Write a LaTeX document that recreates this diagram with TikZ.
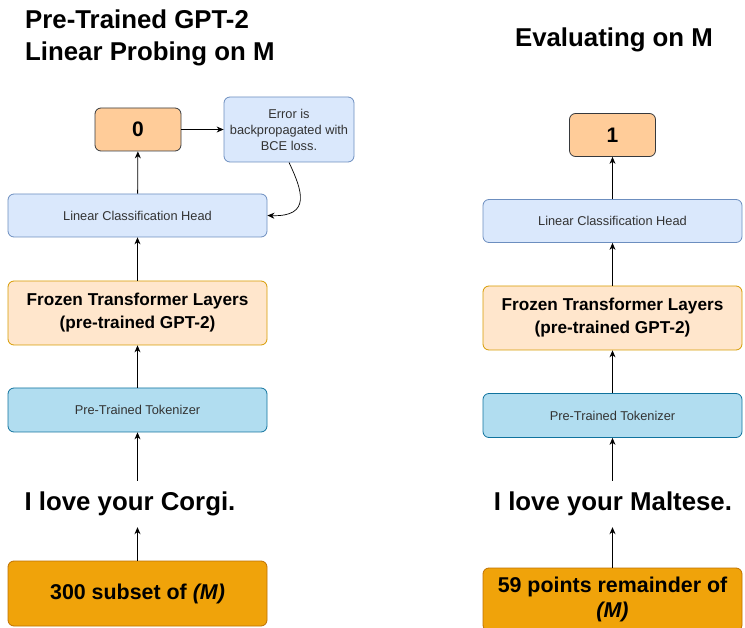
\documentclass[tikz,border=0pt]{standalone}
\usepackage{fontspec}
\setmainfont{Liberation Sans}
\usetikzlibrary{arrows.meta}
\definecolor{orF}{HTML}{FFCC99}\definecolor{orD}{HTML}{36393D}
\definecolor{blF}{HTML}{DAE8FC}\definecolor{blD}{HTML}{6C8EBF}
\definecolor{peF}{HTML}{FFE6CC}\definecolor{peD}{HTML}{D79B00}
\definecolor{tkF}{HTML}{B1DDF0}\definecolor{tkD}{HTML}{10739E}
\definecolor{doF}{HTML}{F0A30A}\definecolor{doD}{HTML}{BD7000}
\definecolor{txt}{HTML}{333333}
\begin{document}
\begin{tikzpicture}[x=1pt,y=-1pt,
  base/.style={draw, rounded corners=6pt, line width=0.8pt, inner sep=2pt, align=center},
  outbox/.style={base, fill=orF, draw=orD, minimum width=86pt, minimum height=43pt, font=\bfseries\fontsize{21}{24}\selectfont},
  errbox/.style={base, fill=blF, draw=blD, minimum width=130pt, minimum height=65pt, font=\fontsize{12.8}{16}\selectfont, text=txt},
  headbox/.style={base, fill=blF, draw=blD, minimum width=259pt, minimum height=43pt, font=\fontsize{12.8}{15}\selectfont, text=txt},
  frozbox/.style={base, fill=peF, draw=peD, minimum width=259pt, minimum height=64pt, font=\bfseries\fontsize{17.2}{23}\selectfont},
  tokbox/.style={base, fill=tkF, draw=tkD, minimum width=259pt, minimum height=44pt, font=\fontsize{12.8}{15}\selectfont, text=txt},
  databox/.style={base, fill=doF, draw=doD, minimum width=259pt, minimum height=65pt, font=\bfseries\fontsize{21.4}{25}\selectfont},
  sent/.style={inner sep=0pt, minimum height=46pt, font=\bfseries\fontsize{25.8}{30}\selectfont},
  ttl/.style={inner sep=0pt, font=\bfseries\fontsize{25.8}{32}\selectfont},
  arr/.style={-{Stealth[length=7pt,width=6pt]}, line width=0.8pt, draw=black}
]
\useasboundingbox (0,0) rectangle (745,628);

% ---- left column ----
\node[ttl, anchor=north west, align=left] (t1) at (25,10) {Pre-Trained GPT-2\\Linear Probing on M};
\node[outbox] (o1) at (138,129.5) {0};
\node[errbox] (e1) at (289,129.5) {Error is\\backpropagated with\\BCE loss.};
\node[headbox] (h1) at (137.5,215.5) {Linear Classification Head};
\node[frozbox] (f1) at (137.5,313) {Frozen Transformer Layers\\(pre-trained GPT-2)};
\node[tokbox] (k1) at (137.5,410) {Pre-Trained Tokenizer};
\node[sent] (s1) at (130,504) {I love your Corgi.};
\node[databox] (d1) at (137.5,593.5) {300 subset of \textit{(M)}};

\draw[arr] (d1.north) -- (d1.north |- s1.south);
\draw[arr] (k1.south |- s1.north) -- (k1.south);
\draw[arr] (k1) -- (f1);
\draw[arr] (f1) -- (h1);
\draw[arr] (h1) -- (o1);
\draw[arr] (o1) -- (e1);
\draw[arr, line width=0.7pt] (e1.south) .. controls (302,190) and (312,217) .. (h1.east);

% ---- right column ----
\node[ttl] (t2) at (614,40) {Evaluating on M};
\node[outbox] (o2) at (612.5,135) {1};
\node[headbox] (h2) at (612.5,221) {Linear Classification Head};
\node[frozbox] (f2) at (612.5,318) {Frozen Transformer Layers\\(pre-trained GPT-2)};
\node[tokbox] (k2) at (612.5,415.5) {Pre-Trained Tokenizer};
\node[sent] (s2) at (613,504) {I love your Maltese.};
\node[databox, minimum height=63pt] (d2) at (612.5,599.5) {59 points remainder of\\\textit{(M)}};

\draw[arr] (d2.north) -- (d2.north |- s2.south);
\draw[arr] (k2.south |- s2.north) -- (k2.south);
\draw[arr] (k2) -- (f2);
\draw[arr] (f2) -- (h2);
\draw[arr] (h2) -- (o2);
\end{tikzpicture}
\end{document}
